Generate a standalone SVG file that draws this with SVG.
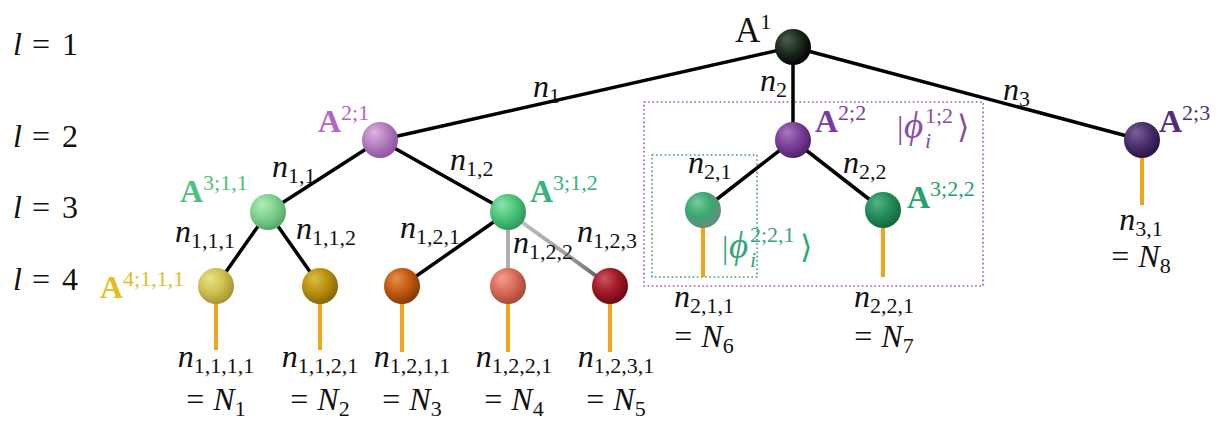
<svg xmlns="http://www.w3.org/2000/svg" width="1220" height="423" viewBox="0 0 1220 423" font-family="'Liberation Serif', 'DejaVu Serif', serif">
<style>
text{font-family:"Liberation Serif","DejaVu Serif",serif;font-size:32px;fill:#111}
.it{font-style:italic}
.sb{font-size:22px;font-style:normal}
.A{font-weight:bold;font-size:32px}
.sp{font-size:22px;font-weight:normal;font-style:normal}
.ph{font-size:37px;font-style:italic}
.e{stroke:#000;stroke-width:3.5;fill:none;stroke-linecap:round}
.leg{stroke:#f0a41c;stroke-width:4;fill:none}
.box{fill:none;stroke-width:1.6;stroke-dasharray:1.6 2.6}
.pu{fill:#8a4caa}
.gr{fill:#35a57a}
</style>
<defs>
<radialGradient id="g0" cx="0.4" cy="0.38" r="0.65" fx="0.33" fy="0.28"><stop offset="0" stop-color="#4f5f4f"/><stop offset="0.55" stop-color="#1d2a1d"/><stop offset="1" stop-color="#000"/></radialGradient>
<radialGradient id="g21" cx="0.4" cy="0.38" r="0.65" fx="0.33" fy="0.28"><stop offset="0" stop-color="#dcb6e0"/><stop offset="0.55" stop-color="#b57cc0"/><stop offset="1" stop-color="#8a509a"/></radialGradient>
<radialGradient id="g22" cx="0.4" cy="0.38" r="0.65" fx="0.33" fy="0.28"><stop offset="0" stop-color="#a878c0"/><stop offset="0.55" stop-color="#7b3f98"/><stop offset="1" stop-color="#4e2066"/></radialGradient>
<radialGradient id="g23" cx="0.4" cy="0.38" r="0.65" fx="0.33" fy="0.28"><stop offset="0" stop-color="#7a6294"/><stop offset="0.55" stop-color="#4b2f6e"/><stop offset="1" stop-color="#261243"/></radialGradient>
<radialGradient id="g311" cx="0.4" cy="0.38" r="0.65" fx="0.33" fy="0.28"><stop offset="0" stop-color="#b0ecb8"/><stop offset="0.55" stop-color="#7fd08e"/><stop offset="1" stop-color="#4fa866"/></radialGradient>
<radialGradient id="g312" cx="0.4" cy="0.38" r="0.65" fx="0.33" fy="0.28"><stop offset="0" stop-color="#8ee4ae"/><stop offset="0.55" stop-color="#4cc47a"/><stop offset="1" stop-color="#2a9656"/></radialGradient>
<radialGradient id="g321" cx="0.4" cy="0.38" r="0.65" fx="0.33" fy="0.28"><stop offset="0" stop-color="#74cc9c"/><stop offset="0.55" stop-color="#3aa872"/><stop offset="1" stop-color="#6a8a7a"/></radialGradient>
<radialGradient id="g322" cx="0.4" cy="0.38" r="0.65" fx="0.33" fy="0.28"><stop offset="0" stop-color="#56b484"/><stop offset="0.55" stop-color="#248c5c"/><stop offset="1" stop-color="#11663d"/></radialGradient>
<radialGradient id="g41" cx="0.4" cy="0.38" r="0.65" fx="0.33" fy="0.28"><stop offset="0" stop-color="#eae488"/><stop offset="0.55" stop-color="#cfc050"/><stop offset="1" stop-color="#a29230"/></radialGradient>
<radialGradient id="g42" cx="0.4" cy="0.38" r="0.65" fx="0.33" fy="0.28"><stop offset="0" stop-color="#dcbc48"/><stop offset="0.55" stop-color="#b8900f"/><stop offset="1" stop-color="#856505"/></radialGradient>
<radialGradient id="g43" cx="0.4" cy="0.38" r="0.65" fx="0.33" fy="0.28"><stop offset="0" stop-color="#e4904a"/><stop offset="0.55" stop-color="#c05a10"/><stop offset="1" stop-color="#863805"/></radialGradient>
<radialGradient id="g44" cx="0.4" cy="0.38" r="0.65" fx="0.33" fy="0.28"><stop offset="0" stop-color="#f2a090"/><stop offset="0.55" stop-color="#d86a58"/><stop offset="1" stop-color="#a54636"/></radialGradient>
<radialGradient id="g45" cx="0.4" cy="0.38" r="0.65" fx="0.33" fy="0.28"><stop offset="0" stop-color="#cc5660"/><stop offset="0.55" stop-color="#a01a28"/><stop offset="1" stop-color="#6c0812"/></radialGradient>
<linearGradient id="gr5" gradientUnits="userSpaceOnUse" x1="508" y1="212" x2="610" y2="286"><stop offset="0" stop-color="#c4c4c4"/><stop offset="0.6" stop-color="#a0a0a0"/><stop offset="1" stop-color="#4a4a4a"/></linearGradient>
</defs>

<g id="level-labels">
<text x="13" y="55"><tspan class="it">l</tspan><tspan x="32">=</tspan><tspan x="62">1</tspan></text>
<text x="13" y="147"><tspan class="it">l</tspan><tspan x="32">=</tspan><tspan x="62">2</tspan></text>
<text x="13" y="218"><tspan class="it">l</tspan><tspan x="32">=</tspan><tspan x="62">3</tspan></text>
<text x="13" y="290"><tspan class="it">l</tspan><tspan x="32">=</tspan><tspan x="62">4</tspan></text>
</g>

<g id="boxes">
<rect class="box" x="644" y="102" width="339" height="184" stroke="#9b55b4"/>
<rect class="box" x="652" y="155" width="105" height="122" stroke="#3f9c72"/>
</g>

<g id="connectors">
<line class="e" x1="793" y1="47" x2="380" y2="140"/>
<line class="e" x1="793" y1="47" x2="793" y2="140"/>
<line class="e" x1="793" y1="47" x2="1142" y2="140"/>
<line class="e" x1="380" y1="140" x2="268" y2="212"/>
<line class="e" x1="380" y1="140" x2="508" y2="212"/>
<line class="e" x1="793" y1="140" x2="703" y2="210"/>
<line class="e" x1="793" y1="140" x2="883" y2="210"/>
<line class="e" x1="268" y1="212" x2="216" y2="286"/>
<line class="e" x1="268" y1="212" x2="320" y2="286"/>
<line class="e" x1="508" y1="212" x2="402" y2="286"/>
<line x1="508" y1="212" x2="508" y2="286" stroke="#b0b0b0" stroke-width="4"/>
<line x1="508" y1="212" x2="610" y2="286" stroke="url(#gr5)" stroke-width="4"/>
<line class="leg" x1="216" y1="300" x2="216" y2="350"/>
<line class="leg" x1="320" y1="300" x2="320" y2="350"/>
<line class="leg" x1="402" y1="300" x2="402" y2="352"/>
<line class="leg" x1="508" y1="300" x2="508" y2="352"/>
<line class="leg" x1="610" y1="300" x2="610" y2="352"/>
<line class="leg" x1="703" y1="224" x2="703" y2="277"/>
<line class="leg" x1="883" y1="224" x2="883" y2="277"/>
<line class="leg" x1="1142" y1="154" x2="1142" y2="205"/>
</g>

<g id="edge-labels">
<text x="533" y="97" class="it">n<tspan class="sb" dy="6">1</tspan></text>
<text x="760" y="91" class="it">n<tspan class="sb" dy="6">2</tspan></text>
<text x="1003" y="100" class="it">n<tspan class="sb" dy="6">3</tspan></text>
<text x="272" y="177" class="it">n<tspan class="sb" dy="6">1,1</tspan></text>
<text x="450" y="170" class="it">n<tspan class="sb" dy="6">1,2</tspan></text>
<text x="688" y="173" class="it">n<tspan class="sb" dy="6">2,1</tspan></text>
<text x="843" y="173" class="it">n<tspan class="sb" dy="6">2,2</tspan></text>
<text x="175" y="242" class="it">n<tspan class="sb" dy="6">1,1,1</tspan></text>
<text x="296" y="239" class="it">n<tspan class="sb" dy="6">1,1,2</tspan></text>
<text x="400" y="238" class="it">n<tspan class="sb" dy="6">1,2,1</tspan></text>
<text x="513" y="253" class="it">n<tspan class="sb" dy="6">1,2,2</tspan></text>
<text x="577" y="242" class="it">n<tspan class="sb" dy="6">1,2,3</tspan></text>
<text x="1141" y="230" text-anchor="middle" class="it">n<tspan class="sb" dy="6">3,1</tspan></text>
<text x="1141" y="267" text-anchor="middle">=<tspan class="it" dx="9">N</tspan><tspan class="sb" dy="6">8</tspan></text>
<text x="216" y="367" text-anchor="middle" class="it">n<tspan class="sb" dy="6">1,1,1,1</tspan></text>
<text x="216" y="410" text-anchor="middle">=<tspan class="it" dx="9">N</tspan><tspan class="sb" dy="6">1</tspan></text>
<text x="320" y="367" text-anchor="middle" class="it">n<tspan class="sb" dy="6">1,1,2,1</tspan></text>
<text x="320" y="410" text-anchor="middle">=<tspan class="it" dx="9">N</tspan><tspan class="sb" dy="6">2</tspan></text>
<text x="412" y="367" text-anchor="middle" class="it">n<tspan class="sb" dy="6">1,2,1,1</tspan></text>
<text x="412" y="410" text-anchor="middle">=<tspan class="it" dx="9">N</tspan><tspan class="sb" dy="6">3</tspan></text>
<text x="514" y="367" text-anchor="middle" class="it">n<tspan class="sb" dy="6">1,2,2,1</tspan></text>
<text x="514" y="410" text-anchor="middle">=<tspan class="it" dx="9">N</tspan><tspan class="sb" dy="6">4</tspan></text>
<text x="616" y="367" text-anchor="middle" class="it">n<tspan class="sb" dy="6">1,2,3,1</tspan></text>
<text x="616" y="410" text-anchor="middle">=<tspan class="it" dx="9">N</tspan><tspan class="sb" dy="6">5</tspan></text>
<text x="704" y="307" text-anchor="middle" class="it">n<tspan class="sb" dy="6">2,1,1</tspan></text>
<text x="704" y="347" text-anchor="middle">=<tspan class="it" dx="9">N</tspan><tspan class="sb" dy="6">6</tspan></text>
<text x="884" y="307" text-anchor="middle" class="it">n<tspan class="sb" dy="6">2,2,1</tspan></text>
<text x="884" y="347" text-anchor="middle">=<tspan class="it" dx="9">N</tspan><tspan class="sb" dy="6">7</tspan></text>
</g>

<g id="state-labels">
<g id="phi-1-2">
<text x="897" y="138" class="pu">|</text>
<text x="904" y="138" class="ph pu">ϕ</text>
<text x="925" y="123" class="sp pu">1;2</text>
<text x="925" y="148" class="sp pu" style="font-style:italic">i</text>
<text x="957" y="138" class="pu">⟩</text>
</g>
<g id="phi-2-2-1">
<text x="722" y="258" class="gr">|</text>
<text x="729" y="258" class="ph gr">ϕ</text>
<text x="750" y="242" class="sp gr">2;2,1</text>
<text x="750" y="267" class="sp gr" style="font-style:italic">i</text>
<text x="800" y="258" class="gr">⟩</text>
</g>
</g>

<g id="node-A1"><circle cx="793" cy="47" r="18" fill="url(#g0)"/>
<text x="735" y="42" class="A" style="font-weight:normal;font-size:35px">A<tspan class="sp" dy="-13">1</tspan></text></g>
<g id="node-A2-1"><circle cx="380" cy="140" r="18" fill="url(#g21)"/>
<text x="318" y="132" class="A" style="fill:#b464c4">A<tspan class="sp" dy="-12">2;1</tspan></text></g>
<g id="node-A2-2"><circle cx="793" cy="140" r="18" fill="url(#g22)"/>
<text x="815" y="132" class="A" style="fill:#7d3a9e">A<tspan class="sp" dy="-12">2;2</tspan></text></g>
<g id="node-A2-3"><circle cx="1142" cy="140" r="18" fill="url(#g23)"/>
<text x="1159" y="132" class="A" style="fill:#4f2d7a">A<tspan class="sp" dy="-12">2;3</tspan></text></g>
<g id="node-A3-1-1"><circle cx="268" cy="212" r="18" fill="url(#g311)"/>
<text x="180" y="202" class="A" style="fill:#4cc07c">A<tspan class="sp" dy="-12">3;1,1</tspan></text></g>
<g id="node-A3-1-2"><circle cx="508" cy="212" r="18" fill="url(#g312)"/>
<text x="530" y="202" class="A" style="fill:#32b47a">A<tspan class="sp" dy="-12">3;1,2</tspan></text></g>
<g id="node-A3-2-1"><circle cx="703" cy="210" r="18" fill="url(#g321)"/></g>
<g id="node-A3-2-2"><circle cx="883" cy="210" r="18" fill="url(#g322)"/>
<text x="907" y="208" class="A" style="fill:#26a06a">A<tspan class="sp" dy="-12">3;2,2</tspan></text></g>
<g id="node-A4-1-1-1"><circle cx="216" cy="286" r="18" fill="url(#g41)"/>
<text x="100" y="298" class="A" style="fill:#e0c020">A<tspan class="sp" dy="-12">4;1,1,1</tspan></text></g>
<g id="node-A4-1-1-2"><circle cx="320" cy="286" r="18" fill="url(#g42)"/></g>
<g id="node-A4-1-2-1"><circle cx="402" cy="286" r="18" fill="url(#g43)"/></g>
<g id="node-A4-1-2-2"><circle cx="508" cy="286" r="18" fill="url(#g44)"/></g>
<g id="node-A4-1-2-3"><circle cx="610" cy="286" r="18" fill="url(#g45)"/></g>
</svg>
